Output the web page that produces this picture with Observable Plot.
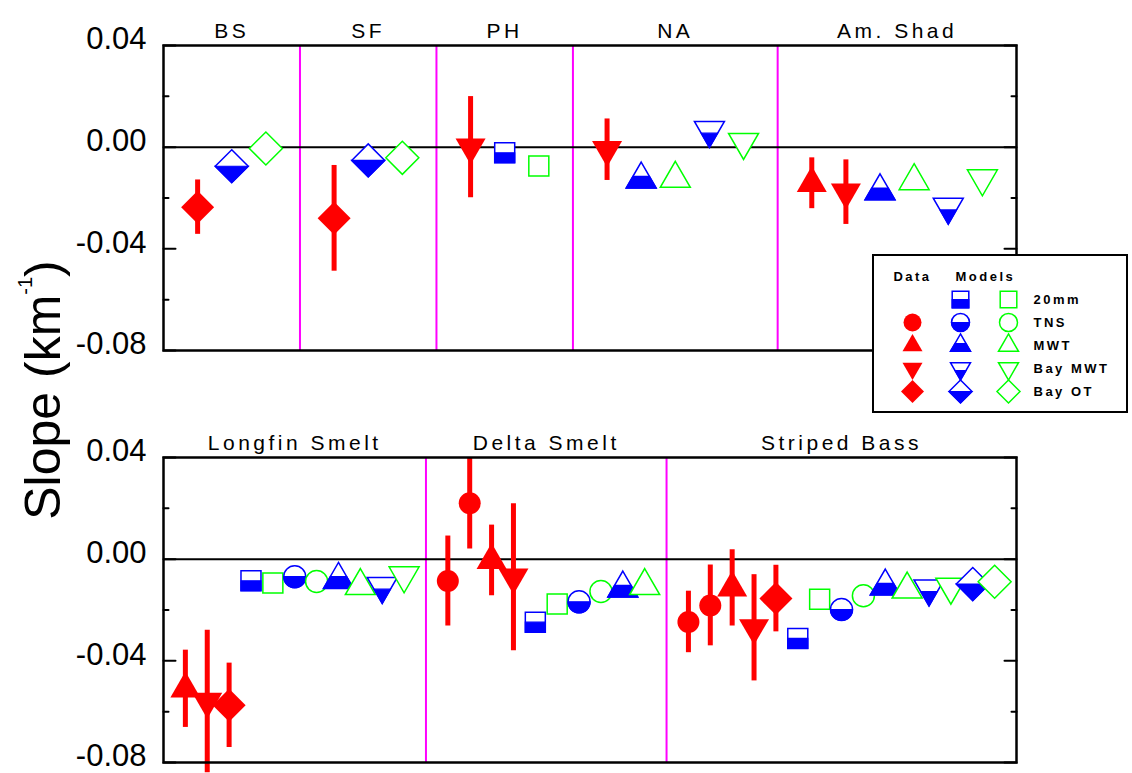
<!DOCTYPE html>
<html>
<head>
<meta charset="utf-8">
<script src="https://cdn.jsdelivr.net/npm/d3@7"></script>
<script src="https://cdn.jsdelivr.net/npm/@observablehq/plot@0.6"></script>
<style>
  body { margin: 0; background: white; }
  #figure { position: relative; width: 1132px; height: 773px; font-family: "Liberation Sans", Arial, sans-serif; }
  #figure svg { display: block; }
  #legend { position: absolute; left: 872px; top: 254px; width: 252px; height: 155px; border: 2px solid black; background: white; }
  #ytitle { position: absolute; left: 0; top: 0; }
</style>
</head>
<body>
<div id="figure"></div>
<script>
// ---- data -------------------------------------------------------------
const topPanels = ["BS", "SF", "PH", "NA", "Am. Shad"];
const bottomPanels = ["Longfin Smelt", "Delta Smelt", "Striped Bass"];
const surveys = ["20mm", "TNS", "MWT", "Bay MWT", "Bay OT"];
const dataSurveys = ["TNS", "MWT", "Bay MWT", "Bay OT"]; // surveys with observed slopes
const yDomain = [-0.08, 0.04];
const yTicks = [0.04, 0.00, -0.04, -0.08];
const yMinorTicks = [0.02, -0.02, -0.06];

// [panel, survey, source, slope (1/km), 95% half-width for observed slopes]
const topSlopes = [
  ["BS", "Bay OT", "data", -0.0236, 0.0107],
  ["BS", "Bay OT", "model1", -0.0075],
  ["BS", "Bay OT", "model2", -0.0005],
  ["SF", "Bay OT", "data", -0.0280, 0.0208],
  ["SF", "Bay OT", "model1", -0.0052],
  ["SF", "Bay OT", "model2", -0.0042],
  ["PH", "Bay MWT", "data", 0.0000, 0.0199],
  ["PH", "20mm", "model1", -0.0022],
  ["PH", "20mm", "model2", -0.0074],
  ["NA", "Bay MWT", "data", -0.0010, 0.0121],
  ["NA", "MWT", "model1", -0.0127],
  ["NA", "MWT", "model2", -0.0124],
  ["NA", "Bay MWT", "model1", 0.0067],
  ["NA", "Bay MWT", "model2", 0.0020],
  ["Am. Shad", "MWT", "data", -0.0142, 0.0100],
  ["Am. Shad", "Bay MWT", "data", -0.0177, 0.0127],
  ["Am. Shad", "MWT", "model1", -0.0173],
  ["Am. Shad", "MWT", "model2", -0.0133],
  ["Am. Shad", "Bay MWT", "model1", -0.0235],
  ["Am. Shad", "Bay MWT", "model2", -0.0123]
];

const bottomSlopes = [
  ["Longfin Smelt", "MWT", "data", -0.0510, 0.0152],
  ["Longfin Smelt", "Bay MWT", "data", -0.0560, 0.0280],
  ["Longfin Smelt", "Bay OT", "data", -0.0575, 0.0166],
  ["Longfin Smelt", "20mm", "model1", -0.0085],
  ["Longfin Smelt", "20mm", "model2", -0.0094],
  ["Longfin Smelt", "TNS", "model1", -0.0069],
  ["Longfin Smelt", "TNS", "model2", -0.0088],
  ["Longfin Smelt", "MWT", "model1", -0.0081],
  ["Longfin Smelt", "MWT", "model2", -0.0105],
  ["Longfin Smelt", "Bay MWT", "model1", -0.0106],
  ["Longfin Smelt", "Bay MWT", "model2", -0.0064],
  ["Delta Smelt", "TNS", "data", -0.0086, 0.0177],
  ["Delta Smelt", "TNS", "data", 0.0220, 0.0180],
  ["Delta Smelt", "MWT", "data", -0.0005, 0.0139],
  ["Delta Smelt", "Bay MWT", "data", -0.0071, 0.0289],
  ["Delta Smelt", "20mm", "model1", -0.0248],
  ["Delta Smelt", "20mm", "model2", -0.0176],
  ["Delta Smelt", "TNS", "model1", -0.0168],
  ["Delta Smelt", "TNS", "model2", -0.0127],
  ["Delta Smelt", "MWT", "model1", -0.0115],
  ["Delta Smelt", "MWT", "model2", -0.0105],
  ["Striped Bass", "TNS", "data", -0.0247, 0.0121],
  ["Striped Bass", "TNS", "data", -0.0182, 0.0159],
  ["Striped Bass", "MWT", "data", -0.0113, 0.0150],
  ["Striped Bass", "Bay MWT", "data", -0.0270, 0.0209],
  ["Striped Bass", "Bay OT", "data", -0.0155, 0.0131],
  ["Striped Bass", "20mm", "model1", -0.0312],
  ["Striped Bass", "20mm", "model2", -0.0158],
  ["Striped Bass", "TNS", "model1", -0.0198],
  ["Striped Bass", "TNS", "model2", -0.0144],
  ["Striped Bass", "MWT", "model1", -0.0107],
  ["Striped Bass", "MWT", "model2", -0.0119],
  ["Striped Bass", "Bay MWT", "model1", -0.0116],
  ["Striped Bass", "Bay MWT", "model2", -0.0109],
  ["Striped Bass", "Bay OT", "model1", -0.0098],
  ["Striped Bass", "Bay OT", "model2", -0.0089]
];

// ---- styling ----------------------------------------------------------
const FONT = '"Liberation Sans", Arial, Helvetica, sans-serif';
const RED = "#ff0000", BLUE = "#0000ff", GREEN = "#00ff00", MAGENTA = "#ff00ff";
const SHAPE = {"20mm": "square", "TNS": "circle", "MWT": "up", "Bay MWT": "down", "Bay OT": "diamond"};
const SIZE_MAIN = {square: 10, circle: 11, up: 15, down: 15, diamond: 16.5};
const SIZE_LEGEND = {square: 8.3, circle: 9, up: 10, down: 10, diamond: 11.5};

// Symbol outlines; `half` draws only the lower part (for half-filled markers).
function makeSymbol(kind, half) {
  return {
    draw(ctx, size) {
      const r = Math.sqrt(size / Math.PI);
      if (kind === "square") {
        if (half) ctx.rect(-r, 0, 2 * r, r); else ctx.rect(-r, -r, 2 * r, 2 * r);
      } else if (kind === "circle") {
        ctx.moveTo(r, 0);
        ctx.arc(0, 0, r, 0, half ? Math.PI : 2 * Math.PI);
        ctx.closePath();
      } else if (kind === "diamond") {
        if (half) { ctx.moveTo(-r, 0); ctx.lineTo(r, 0); ctx.lineTo(0, r); }
        else { ctx.moveTo(0, -r); ctx.lineTo(r, 0); ctx.lineTo(0, r); ctx.lineTo(-r, 0); }
        ctx.closePath();
      } else if (kind === "up") {
        const h = r * Math.sqrt(3), top = -2 * h / 3, bot = h / 3;
        if (half) {
          const c = top + 0.55 * h, w = r * (c - top) / h;
          ctx.moveTo(-w, c); ctx.lineTo(w, c); ctx.lineTo(r, bot); ctx.lineTo(-r, bot);
        } else { ctx.moveTo(0, top); ctx.lineTo(r, bot); ctx.lineTo(-r, bot); }
        ctx.closePath();
      } else if (kind === "down") {
        const h = r * Math.sqrt(3), top = -h / 3, bot = 2 * h / 3;
        if (half) {
          const c = top + 0.45 * h, w = r * (bot - c) / h;
          ctx.moveTo(-w, c); ctx.lineTo(w, c); ctx.lineTo(0, bot);
        } else { ctx.moveTo(-r, top); ctx.lineTo(r, top); ctx.lineTo(0, bot); }
        ctx.closePath();
      }
    }
  };
}
const FULL = {}, HALF = {};
for (const k of ["square", "circle", "up", "down", "diamond"]) { FULL[k] = makeSymbol(k, false); HALF[k] = makeSymbol(k, true); }

// Red filled = observed; blue half-filled = first model; green open = second model.
function symbolMarks(points, sizes, x, y) {
  const marks = [];
  for (const survey of surveys) {
    const kind = SHAPE[survey];
    const pick = source => points.filter(d => d.survey === survey && d.source === source);
    const o = {x, y, r: sizes[kind]};
    marks.push(
      Plot.dot(pick("data"), {...o, symbol: FULL[kind], fill: RED}),
      Plot.dot(pick("model1"), {...o, symbol: FULL[kind], fill: "white", stroke: BLUE, strokeWidth: 1.5}),
      Plot.dot(pick("model1"), {...o, symbol: HALF[kind], fill: BLUE, stroke: BLUE, strokeWidth: 1.2}),
      Plot.dot(pick("model2"), {...o, symbol: FULL[kind], fill: "white", stroke: GREEN, strokeWidth: 1.5})
    );
  }
  return marks;
}

// Lay out the entries of each panel in consecutive slots along x.
function arrange(panels, rows) {
  const points = [], separators = [], titles = [];
  let slot = 0;
  panels.forEach((panel, k) => {
    const start = slot;
    for (const [p, survey, source, slope, ci] of rows) {
      if (p !== panel) continue;
      points.push({panel, survey, source, slope, ci, slot: ++slot});
    }
    slot += 1;
    titles.push({panel, mid: (start + slot) / 2});
    if (k < panels.length - 1) separators.push(slot);
  });
  return {points, separators, titles, extent: slot};
}

const tickShape = dir => ({draw(ctx, l) { ctx.moveTo(0, 0); ctx.lineTo(dir * l, 0); }});
function tickMarks() {
  const marks = [];
  for (const [anchor, dir] of [["left", 1], ["right", -1]]) {
    marks.push(
      Plot.vector(yTicks, {y: d => d, frameAnchor: anchor, anchor: "start", length: 12, shape: tickShape(dir), stroke: "black", strokeWidth: 2}),
      Plot.vector(yMinorTicks, {y: d => d, frameAnchor: anchor, anchor: "start", length: 5, shape: tickShape(dir), stroke: "black", strokeWidth: 2})
    );
  }
  return marks;
}

// Widen the tracking of the given labels inside a rendered chart.
function spaceLetters(svg, labels, px) {
  svg.querySelectorAll("text").forEach(el => {
    if (labels.includes(el.textContent)) el.setAttribute("letter-spacing", px);
  });
  return svg;
}

function panelChart(panels, rows, {height, marginTop, marginBottom}) {
  const {points, separators, titles, extent} = arrange(panels, rows);
  const svg = Plot.plot({
    width: 1132, height, marginLeft: 163, marginRight: 116, marginTop, marginBottom,
    style: {fontFamily: FONT, color: "black", background: "transparent", overflow: "visible"},
    x: {domain: [0, extent], axis: null},
    y: {domain: yDomain, label: null},
    marks: [
      Plot.ruleX(separators, {stroke: MAGENTA, strokeWidth: 2}),
      Plot.ruleY([0], {stroke: "black", strokeWidth: 2}),
      Plot.ruleX(points.filter(d => d.ci != null), {x: "slot", y1: d => d.slope - d.ci, y2: d => d.slope + d.ci, stroke: RED, strokeWidth: 5}),
      ...symbolMarks(points, SIZE_MAIN, "slot", "slope"),
      Plot.frame({stroke: "black", strokeWidth: 2.5}),
      ...tickMarks(),
      Plot.axisY({ticks: yTicks, tickSize: 0, tickPadding: 17, fontSize: 31, dy: -6, tickFormat: d => d.toFixed(2), label: null}),
      Plot.text(titles, {x: "mid", frameAnchor: "top", text: "panel", dy: -22, fontSize: 21})
    ]
  });
  return spaceLetters(svg, panels, 3.5);
}

const figure = document.getElementById("figure");
figure.append(panelChart(topPanels, topSlopes, {height: 400, marginTop: 45, marginBottom: 50}));
figure.append(panelChart(bottomPanels, bottomSlopes, {height: 373, marginTop: 57, marginBottom: 11}));

// ---- shared y title ---------------------------------------------------
const ytitle = d3.create("svg").attr("id", "ytitle").attr("width", 100).attr("height", 773);
const t = ytitle.append("text")
  .attr("transform", "translate(60,390) rotate(-90)")
  .attr("text-anchor", "middle")
  .attr("font-family", FONT)
  .attr("font-size", 50)
  .attr("fill", "black");
t.append("tspan").text("Slope (km");
t.append("tspan").attr("font-size", 20).attr("dy", -28).text("-1");
t.append("tspan").attr("dy", 28).text(")");
figure.append(ytitle.node());

// ---- legend -----------------------------------------------------------
const legendEntries = [
  ...dataSurveys.map(survey => ({survey, source: "data"})),
  ...surveys.map(survey => ({survey, source: "model1"})),
  ...surveys.map(survey => ({survey, source: "model2"}))
];
const legendBox = document.createElement("div");
legendBox.id = "legend";
const legendSvg = Plot.plot({
  width: 252, height: 155, marginLeft: 38, marginRight: 70, marginTop: 18, marginBottom: 18,
  style: {fontFamily: FONT, color: "black", background: "white", overflow: "visible"},
  x: {type: "point", domain: ["data", "model1", "model2", "label"], padding: 0, axis: null},
  y: {type: "point", domain: ["header", ...surveys], padding: 0, axis: null},
  marks: [
    ...symbolMarks(legendEntries, SIZE_LEGEND, "source", "survey"),
    Plot.text(["Data"], {x: () => "data", y: () => "header", text: d => d, fontSize: 13, fontWeight: "bold"}),
    Plot.text(["Models"], {x: () => "model1", y: () => "header", text: d => d, textAnchor: "start", dx: -5, fontSize: 13, fontWeight: "bold"}),
    Plot.text(surveys, {x: () => "label", y: d => d, text: d => d, textAnchor: "start", dx: -23, fontSize: 13, fontWeight: "bold"})
  ]
});
legendBox.append(spaceLetters(legendSvg, ["Data", "Models", ...surveys], 2.5));
figure.append(legendBox);
</script>
</body>
</html>
